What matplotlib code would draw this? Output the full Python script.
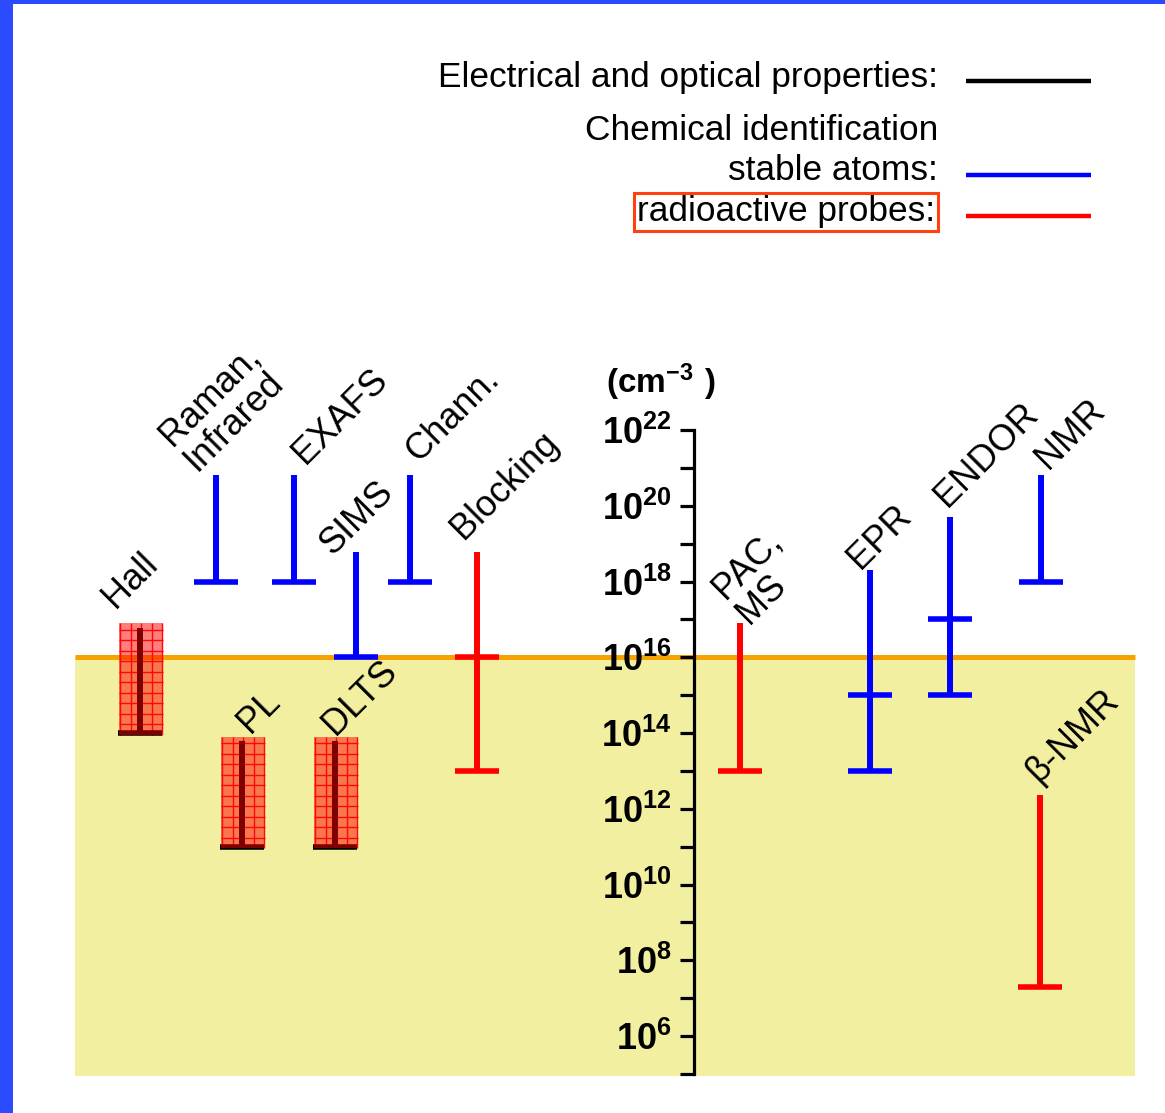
import numpy as np
import matplotlib.pyplot as plt
import matplotlib.transforms as mtransforms
from matplotlib.patches import Rectangle
from matplotlib.lines import Line2D
from matplotlib.ticker import NullLocator

plt.rcParams['font.family'] = ['Liberation Sans', 'DejaVu Sans']
plt.rcParams['mathtext.fontset'] = 'custom'
plt.rcParams['mathtext.rm'] = 'Liberation Sans'
plt.rcParams['mathtext.bf'] = 'Liberation Sans:bold'

# techniques and the concentration range (cm^-3) each one covers
names = ['Hall', 'Raman,\nInfrared', 'PL', 'EXAFS', 'SIMS', 'DLTS', 'Chann.',
         'Blocking', 'PAC,\nMS', 'EPR', 'ENDOR', 'NMR', 'β-NMR']
kinds = ['electrical', 'stable', 'electrical', 'stable', 'stable', 'electrical', 'stable',
         'radioactive', 'radioactive', 'stable', 'stable', 'stable', 'radioactive']
upper = [6e16, 6.5e20, 6.2e13, 6.5e20, 6e18, 6.2e13, 6.5e20,
         6e18, 8e16, 2e18, 5e19, 6.5e20, 2.3e12]
lower = [1e14, 1e18, 1e11, 1e18, 1e16, 1e11, 1e18,
         1e13, 1e13, 1e13, 1e15, 1e18, 2e7]
middle = [None, None, None, None, None, None, None,
          1e16, None, 1e15, 1e17, None, None]
doping_level = 1e16
decades = list(range(5, 23))

# layout (pixel units of the 1165 x 1113 canvas)
W, H = 1165, 1113
xpos = [140, 216, 242, 294, 356, 335, 410, 477, 740, 870, 950, 1041, 1040]
label_xy = [(130, 580), (222, 408), (259, 712), (340, 416), (357, 518), (360, 698),
            (453, 415), (505, 485), (759, 577), (880, 537), (987, 455), (1070, 434),
            (1073, 736)]
colors = {'electrical': 'black', 'stable': '#0000FF', 'radioactive': '#FF0000'}

px_per_decade = 37.875
y_top_px = 430  # 10^22

fig = plt.figure(figsize=(W / 100, H / 100), dpi=100)
ax = fig.add_axes([0, 0, 1, 1])
ax.set_xlim(0, W)
ax.set_yscale('log')
ax.set_ylim(10 ** (22 - (H - y_top_px) / px_per_decade), 10 ** (22 + y_top_px / px_per_decade))
ax.patch.set_visible(False)

pix = mtransforms.Affine2D().scale(1 / W, -1 / H).translate(0, 1) + fig.transFigure

# shaded region below the typical doping level
ax.fill_between([75, 1135], 10 ** 4.94, doping_level, color='#F2F0A0', lw=0, zorder=0)
ax.hlines(doping_level, 75, 1135, color='#F5A300', lw=3.6, zorder=1)

cap = 22
grid_step = 10.5  # px between the lines of the gridded boxes
for i, name in enumerate(names):
    x = xpos[i]
    c = colors[kinds[i]]
    ax.vlines(x, lower[i], upper[i], color=c, lw=4.3, zorder=3)
    ax.hlines(lower[i], x - cap, x + cap, color=c, lw=4.0, zorder=3)
    if middle[i] is not None:
        ax.hlines(middle[i], x - cap, x + cap, color=c, lw=4.0, zorder=3)
    if kinds[i] == 'electrical':
        # translucent red box with a fine grid, laid over the bar
        x0, x1 = x - 21, x + 23
        y0, y1 = lower[i] / 1.1, upper[i] * 1.3
        ax.add_patch(Rectangle((x0, y0), x1 - x0, y1 - y0,
                               facecolor=(1, 0, 0, 0.5), lw=0, zorder=4))
        gx = np.arange(x0 + 1, x1, grid_step)
        gy = y0 * 10 ** (np.arange(0, np.log10(y1 / y0) * px_per_decade, grid_step)
                         / px_per_decade)
        ax.vlines(gx, y0, y1, color='#FF1010', lw=1.0, zorder=2.5)
        ax.hlines(gy[1:], x0, x1, color='#FF1010', lw=1.0, zorder=2.5)
    lx, ly = label_xy[i]
    ax.text(lx, ly, name, transform=pix, rotation=45, ha='center', va='center',
            fontsize=26, multialignment='left', linespacing=1.0, zorder=5)

# concentration axis
for side in ['top', 'right', 'bottom']:
    ax.spines[side].set_visible(False)
ax.spines['left'].set_position(('data', 694))
ax.spines['left'].set_bounds(10.0 ** decades[0], 10.0 ** decades[-1])
ax.spines['left'].set_linewidth(2.3)
ax.set_xticks([])
ax.set_yticks([10.0 ** k for k in decades])
ax.set_yticklabels([rf'$\mathbf{{10^{{{k}}}}}$' if k % 2 == 0 else '' for k in decades])
ax.yaxis.set_minor_locator(NullLocator())
ax.tick_params(axis='y', direction='out', length=10, width=2.3, pad=6, labelsize=26)
fig.text(661, 382, r'$\mathbf{(cm^{-3}\ )}$', transform=pix, ha='center', va='center',
         fontsize=24)

# legend
fig.text(938, 77, 'Electrical and optical properties:', transform=pix, ha='right',
         va='center', fontsize=25.4)
fig.text(938, 130, 'Chemical identification', transform=pix, ha='right',
         va='center', fontsize=25.4)
fig.text(938, 171, 'stable atoms:', transform=pix, ha='right', va='center', fontsize=25.4)
fig.text(935, 212, 'radioactive probes:', transform=pix, ha='right', va='center',
         fontsize=25.4, bbox=dict(boxstyle='square,pad=0.08', fc='none', ec='#FF4010', lw=2.2))
for yy, key in [(81, 'electrical'), (175, 'stable'), (216, 'radioactive')]:
    fig.add_artist(Line2D([966, 1091], [yy, yy], transform=pix, color=colors[key],
                          lw=3.2, solid_capstyle='butt'))

# frame strips
fig.add_artist(Rectangle((0, 0), 13 / W, 1, transform=fig.transFigure,
                         color='#2B4BFF', lw=0))
fig.add_artist(Rectangle((0, 1 - 4 / H), 1, 4 / H, transform=fig.transFigure,
                         color='#2B4BFF', lw=0))

fig.savefig('out.png', dpi=100)
